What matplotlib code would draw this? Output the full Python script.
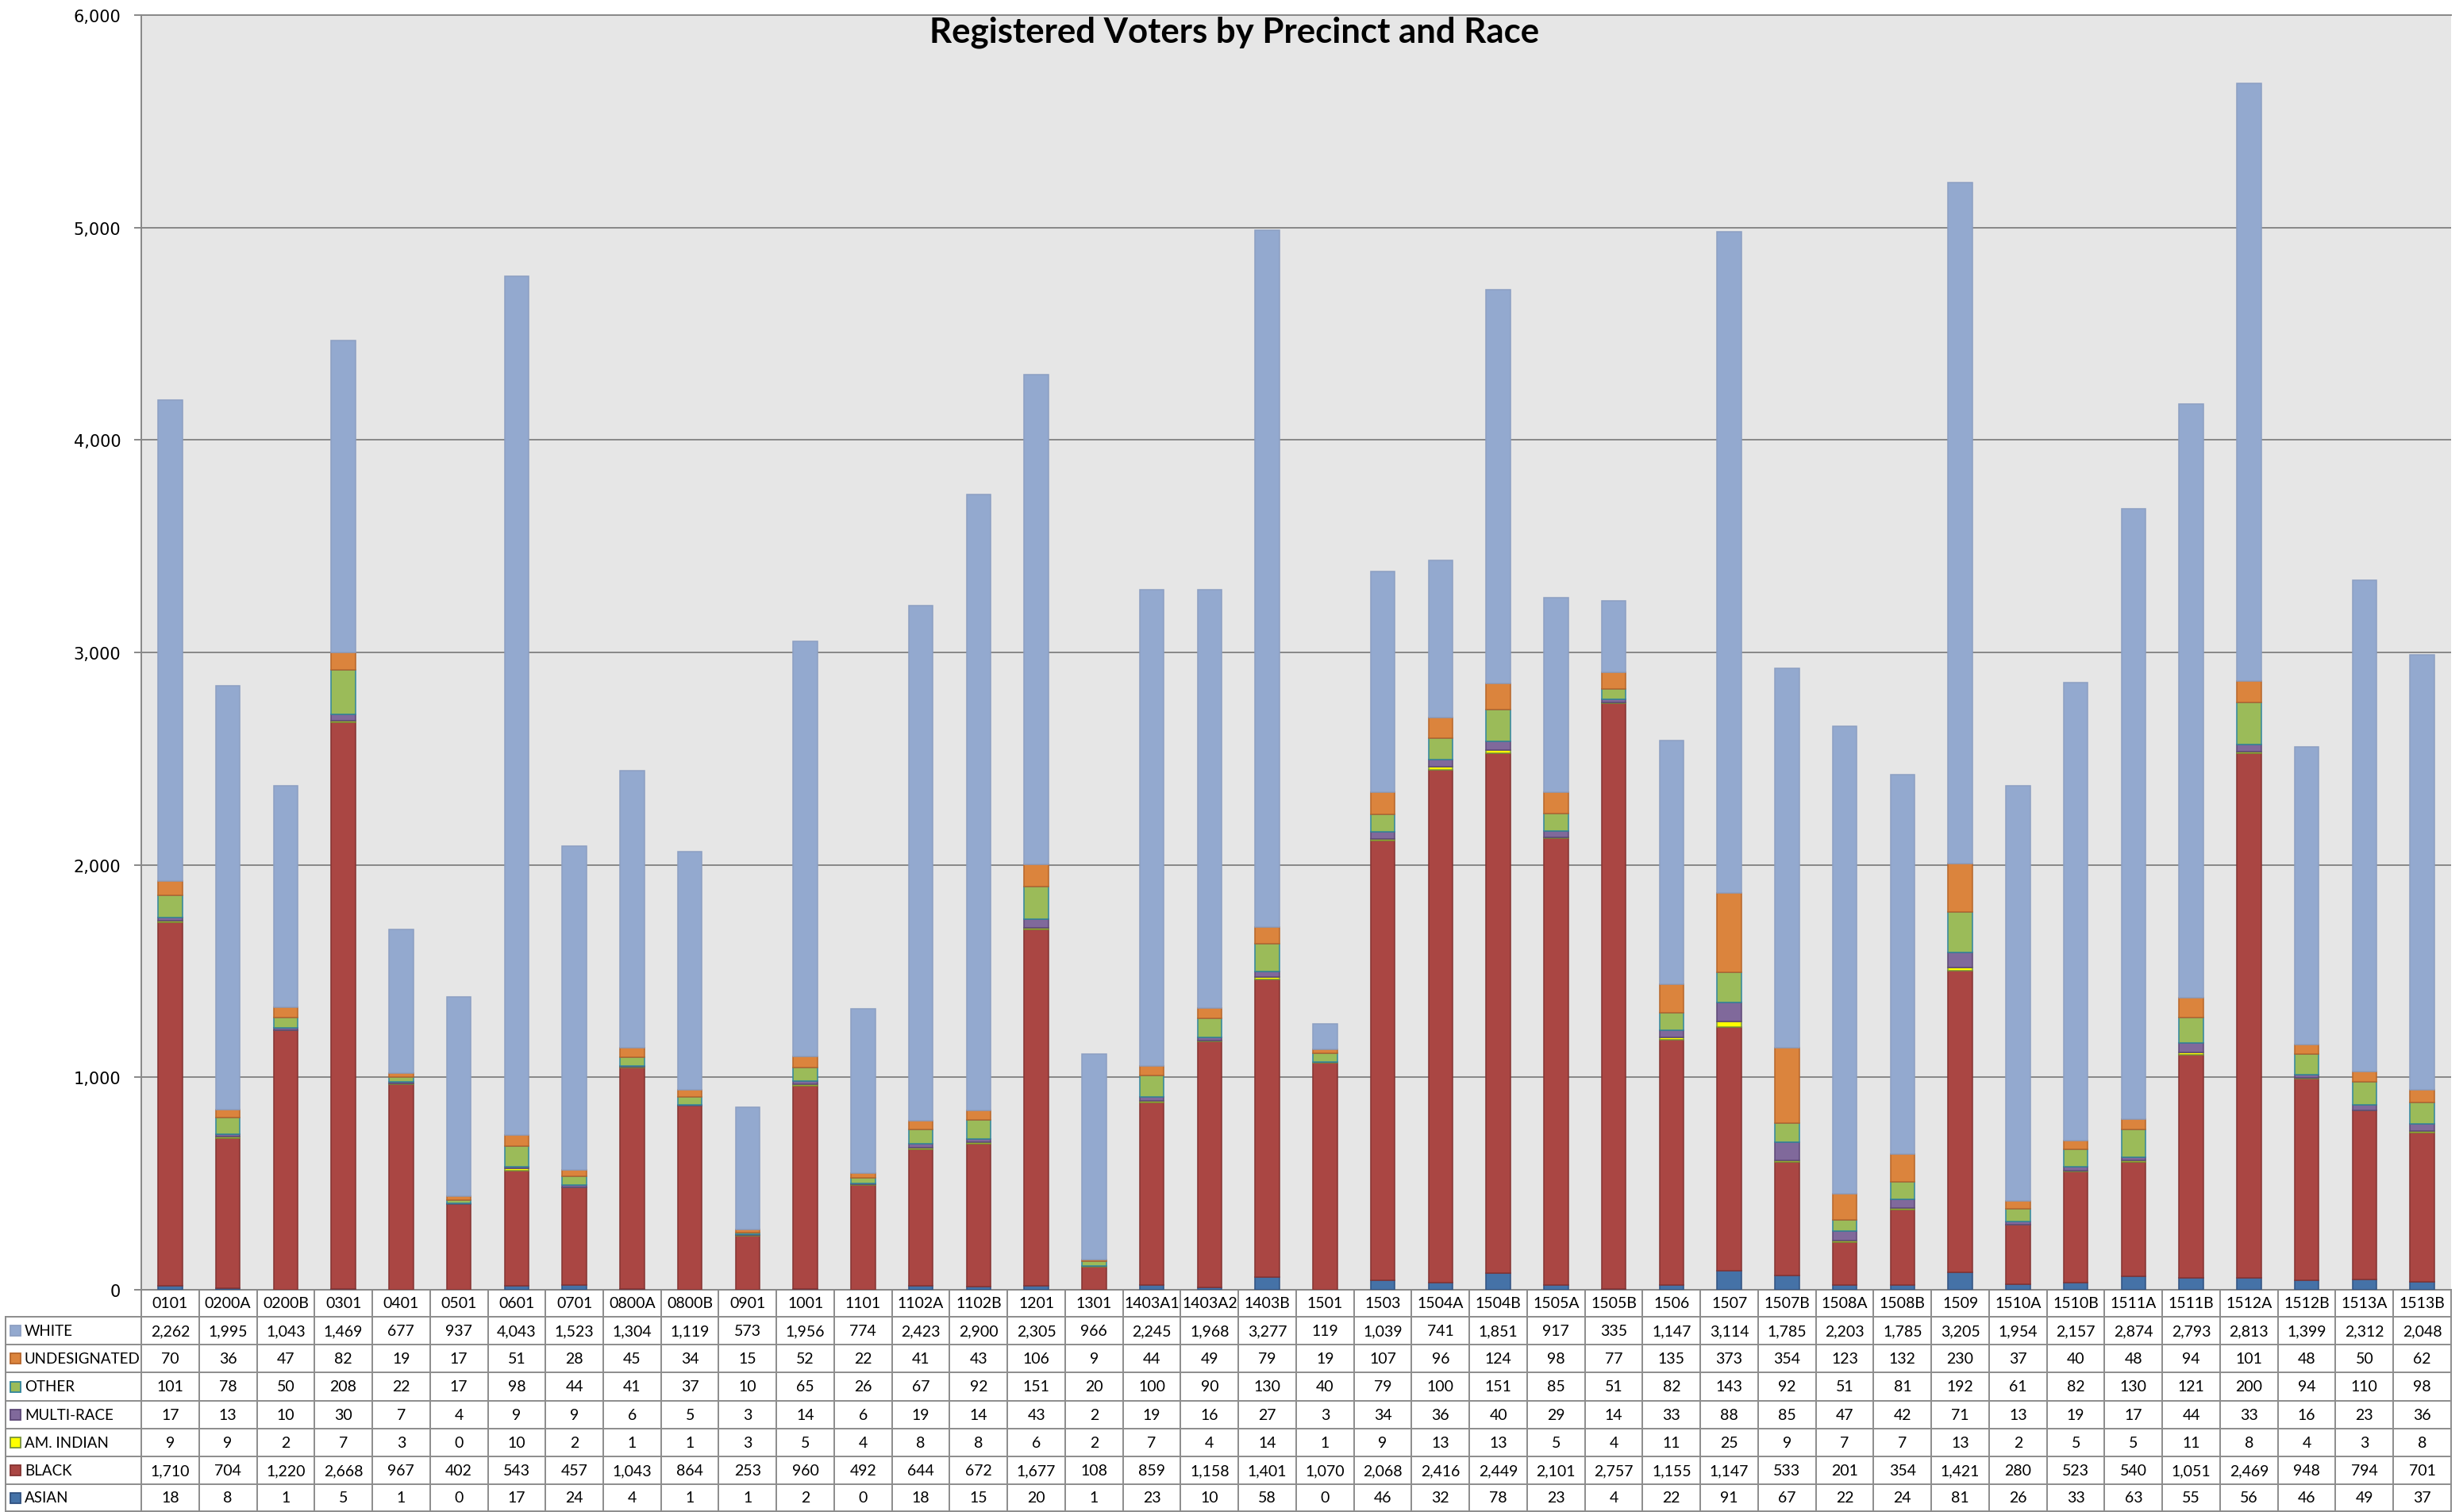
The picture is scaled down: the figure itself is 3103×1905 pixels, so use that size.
import matplotlib
matplotlib.use("Agg")
import matplotlib.pyplot as plt
from matplotlib.patches import Rectangle
from matplotlib.lines import Line2D
from matplotlib.ticker import FuncFormatter
from matplotlib.transforms import blended_transform_factory
import numpy as np

precincts = ["0101", "0200A", "0200B", "0301", "0401", "0501", "0601", "0701", "0800A", "0800B",
             "0901", "1001", "1101", "1102A", "1102B", "1201", "1301", "1403A1", "1403A2", "1403B",
             "1501", "1503", "1504A", "1504B", "1505A", "1505B", "1506", "1507", "1507B", "1508A",
             "1508B", "1509", "1510A", "1510B", "1511A", "1511B", "1512A", "1512B", "1513A", "1513B"]

white = [2262, 1995, 1043, 1469, 677, 937, 4043, 1523, 1304, 1119,
         573, 1956, 774, 2423, 2900, 2305, 966, 2245, 1968, 3277,
         119, 1039, 741, 1851, 917, 335, 1147, 3114, 1785, 2203,
         1785, 3205, 1954, 2157, 2874, 2793, 2813, 1399, 2312, 2048]
undesignated = [70, 36, 47, 82, 19, 17, 51, 28, 45, 34,
                15, 52, 22, 41, 43, 106, 9, 44, 49, 79,
                19, 107, 96, 124, 98, 77, 135, 373, 354, 123,
                132, 230, 37, 40, 48, 94, 101, 48, 50, 62]
other = [101, 78, 50, 208, 22, 17, 98, 44, 41, 37,
         10, 65, 26, 67, 92, 151, 20, 100, 90, 130,
         40, 79, 100, 151, 85, 51, 82, 143, 92, 51,
         81, 192, 61, 82, 130, 121, 200, 94, 110, 98]
multi_race = [17, 13, 10, 30, 7, 4, 9, 9, 6, 5,
              3, 14, 6, 19, 14, 43, 2, 19, 16, 27,
              3, 34, 36, 40, 29, 14, 33, 88, 85, 47,
              42, 71, 13, 19, 17, 44, 33, 16, 23, 36]
am_indian = [9, 9, 2, 7, 3, 0, 10, 2, 1, 1,
             3, 5, 4, 8, 8, 6, 2, 7, 4, 14,
             1, 9, 13, 13, 5, 4, 11, 25, 9, 7,
             7, 13, 2, 5, 5, 11, 8, 4, 3, 8]
black = [1710, 704, 1220, 2668, 967, 402, 543, 457, 1043, 864,
         253, 960, 492, 644, 672, 1677, 108, 859, 1158, 1401,
         1070, 2068, 2416, 2449, 2101, 2757, 1155, 1147, 533, 201,
         354, 1421, 280, 523, 540, 1051, 2469, 948, 794, 701]
asian = [18, 8, 1, 5, 1, 0, 17, 24, 4, 1,
         1, 2, 0, 18, 15, 20, 1, 23, 10, 58,
         0, 46, 32, 78, 23, 4, 22, 91, 67, 22,
         24, 81, 26, 33, 63, 55, 56, 46, 49, 37]

series_names = ["ASIAN", "BLACK", "AM. INDIAN", "MULTI-RACE", "OTHER", "UNDESIGNATED", "WHITE"]
series_values = [asian, black, am_indian, multi_race, other, undesignated, white]
fills = ["#4572A7", "#AA4643", "#FFFF00", "#80699B", "#9BBB59", "#DB843D", "#93A9CF"]
edges = ["#2F5180", "#853331", "#76923C", "#5C4776", "#31859C", "#B6652A", "#8C9FC2"]

title = "Registered Voters by Precinct and Race"

W, H = 3103, 1906
fig = plt.figure(figsize=(W / 100, H / 100), dpi=100)


def fx(px):
    return px / W


def fy(py):
    return 1 - py / H


AX_L, AX_R, AX_T, AX_B = 178, 3088, 20, 1626
ax = fig.add_axes([fx(AX_L), fy(AX_B), (AX_R - AX_L) / W, (AX_B - AX_T) / H])
ax.set_facecolor("#E6E6E6")

n = len(precincts)
x = np.arange(n)
bottom = np.zeros(n)
for name, vals, fc, ec in zip(series_names, series_values, fills, edges):
    v = np.array(vals, dtype=float)
    ax.bar(x, v, 0.42, bottom=bottom, color=fc, edgecolor=ec, linewidth=1.1, zorder=3)
    bottom += v

ax.set_xlim(-0.5, n - 0.5)
ax.set_ylim(0, 6000)
ax.set_yticks(range(0, 6001, 1000))
ax.yaxis.set_major_formatter(FuncFormatter(lambda v, p: f"{int(v):,}"))
ax.tick_params(axis="y", length=6.5, width=1.4, color="#888888", labelsize=15, pad=12,
               labelcolor="black")
ax.set_xticks([])
ax.grid(axis="y", color="#888888", linewidth=1.4, zorder=0)
ax.set_axisbelow(True)
for s in ["left", "top", "bottom"]:
    ax.spines[s].set_color("#888888")
    ax.spines[s].set_linewidth(1.4)
ax.spines["right"].set_visible(False)

fig.text(fx(1555), fy(41), title, ha="center", va="center", fontsize=31.5,
         fontweight="bold", family="Lato")

# ---- data table below the axes ----
trans = blended_transform_factory(ax.transData, fig.transFigure)
grid_c = "#8C8C8C"
lw = 1.4
HEAD_T, HEAD_B = AX_B, 1660
row_b = [1660, 1695, 1730, 1766, 1801, 1836, 1871, 1905]
TAB_L = 7
tfont = dict(family="Lato", fontsize=14, color="black")
lfont = dict(family="Lato", fontsize=13.5, color="black")

for i in range(n + 1):
    xb = i - 0.5
    ax.add_line(Line2D([xb, xb], [fy(HEAD_T), fy(row_b[-1])], transform=trans,
                       color=grid_c, lw=lw, clip_on=False))
fig.add_artist(Line2D([fx(TAB_L), fx(TAB_L)], [fy(row_b[0]), fy(row_b[-1])],
                      transform=fig.transFigure, color=grid_c, lw=lw))
for yb in row_b:
    fig.add_artist(Line2D([fx(TAB_L), fx(AX_R)], [fy(yb), fy(yb)],
                          transform=fig.transFigure, color=grid_c, lw=lw))

for i, p in enumerate(precincts):
    ax.text(i, fy((HEAD_T + HEAD_B) / 2), p, transform=trans, ha="center", va="center",
            clip_on=False, **tfont)

table_rows = list(zip(series_names, series_values, fills, edges))[::-1]
for r, (name, vals, fc, ec) in enumerate(table_rows):
    yc = (row_b[r] + row_b[r + 1]) / 2
    fig.add_artist(Rectangle((fx(13), fy(yc + 6.5)), 13 / W, 13 / H, transform=fig.transFigure,
                             facecolor=fc, edgecolor=ec, linewidth=1.3))
    fig.text(fx(31), fy(yc), name, ha="left", va="center", **lfont)
    for i, v in enumerate(vals):
        ax.text(i, fy(yc), f"{v:,}", transform=trans, ha="center", va="center",
                clip_on=False, **tfont)

fig.savefig("out.png", dpi=100)
